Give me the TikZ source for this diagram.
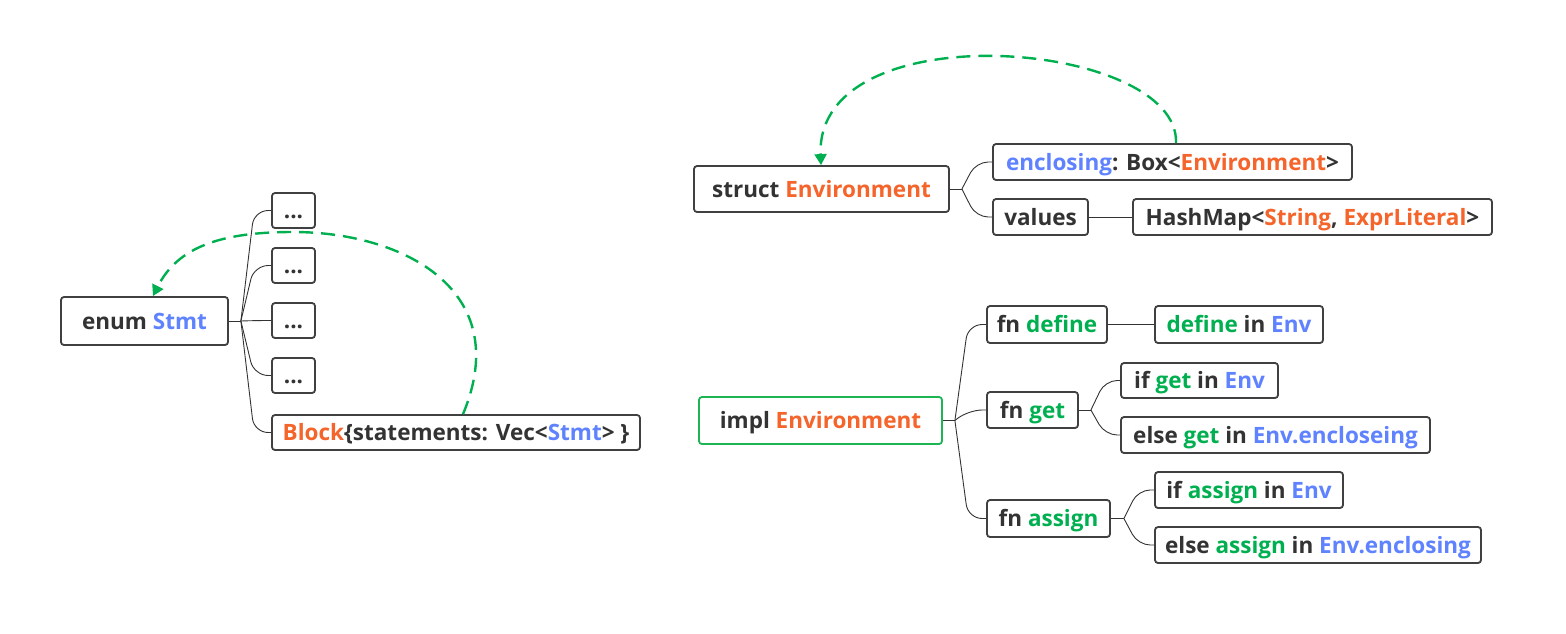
\documentclass[tikz,border=0pt]{standalone}
\usepackage{fontspec}
\setmainfont{Open Sans}
\usetikzlibrary{arrows.meta}
\definecolor{txt}{HTML}{333333}
\definecolor{orgc}{HTML}{F5642A}
\definecolor{bluc}{HTML}{5F82FF}
\definecolor{grnc}{HTML}{00B050}
\definecolor{brd}{HTML}{404040}
\definecolor{ibrd}{HTML}{1DB454}
\newcommand{\cO}[1]{\textcolor{orgc}{#1}}
\newcommand{\cB}[1]{\textcolor{bluc}{#1}}
\newcommand{\cG}[1]{\textcolor{grnc}{#1}}
\begin{document}
\begin{tikzpicture}[x=1pt,y=-1pt,
  box/.style={draw=brd, line width=1.8pt, rounded corners=3pt, fill=white, text=txt,
    inner sep=0pt, minimum height=36pt, text height=18pt, text depth=2pt,
    font=\bfseries\fontsize{22.5}{26}\selectfont, anchor=center},
  conn/.style={draw=txt, line width=0.9pt},
  link/.style={draw=grnc, line width=2.4pt, dash pattern=on 14pt off 8pt,
    -{Triangle[length=11pt,width=12pt]}}]
\useasboundingbox (0,0) rectangle (1566,633);

% left tree
\node[box, minimum width=167pt, minimum height=48pt] (es) at (144.5,321) {enum \cB{Stmt}};
\node[box, minimum width=43pt, minimum height=35pt] (d1) at (293.5,210.5) {...};
\node[box, minimum width=43pt, minimum height=35pt] (d2) at (293.5,265.5) {...};
\node[box, minimum width=43pt, minimum height=35pt] (d3) at (293.5,320.5) {...};
\node[box, minimum width=43pt, minimum height=35pt] (d4) at (293.5,375.5) {...};
\node[box, minimum width=368pt, minimum height=35pt] (blk) at (456,432.5) {\cO{Block}\{statements: Vec<\cB{Stmt}> \}};

% struct
\node[box, minimum width=255pt, minimum height=46pt] (se) at (821.5,189) {struct \cO{Environment}};
\node[box, minimum width=359pt] (enc) at (1172.5,162) {\cB{enclosing}: Box<\cO{Environment}>};
\node[box, minimum width=95pt] (val) at (1040.5,217) {values};
\node[box, minimum width=359pt] (hm) at (1312.5,217) {HashMap<\cO{String}, \cO{ExprLiteral}>};

% impl
\node[box, draw=ibrd, minimum width=243pt, minimum height=47pt] (ie) at (820.5,420.5) {impl \cO{Environment}};
\node[box, minimum width=120pt, minimum height=37pt] (fd) at (1047,324.5) {fn \cG{define}};
\node[box, minimum width=168pt, minimum height=37pt] (fdE) at (1239,324.5) {\cG{define} in \cB{Env}};
\node[box, minimum width=91pt] (fg) at (1032.5,410) {fn \cG{get}};
\node[box, minimum width=157pt, minimum height=35pt] (fg1) at (1199.5,380.5) {if \cG{get} in \cB{Env}};
\node[box, minimum width=309pt] (fg2) at (1275.5,435) {else \cG{get} in \cB{Env.encloseing}};
\node[box, minimum width=123pt, minimum height=37pt] (fa) at (1048.5,518.5) {fn \cG{assign}};
\node[box, minimum width=188pt] (fa1) at (1249,490) {if \cG{assign} in \cB{Env}};
\node[box, minimum width=326pt] (fa2) at (1318,545) {else \cG{assign} in \cB{Env.enclosing}};

% connectors
\draw[conn] (es.east) -- ++(12,0) coordinate (eb);
\foreach \n in {d1,d2,d3,d4,blk}
  \draw[conn, rounded corners=14pt] (eb) -- ([xshift=-17pt]\n.west) -- (\n.west);
\draw[conn] (se.east) -- ++(12,0) coordinate (sb);
\foreach \n in {enc,val}
  \draw[conn, rounded corners=12pt] (sb) -- ([xshift=-16pt]\n.west) -- (\n.west);
\draw[conn] (val) -- (hm);
\draw[conn] (ie.east) -- ++(12,0) coordinate (ib);
\foreach \n in {fd,fg,fa}
  \draw[conn, rounded corners=14pt] (ib) -- ([xshift=-18pt]\n.west) -- (\n.west);
\draw[conn] (fd) -- (fdE);
\draw[conn] (fg.east) -- ++(12,0) coordinate (gb);
\foreach \n in {fg1,fg2}
  \draw[conn, rounded corners=12pt] (gb) -- ([xshift=-15pt]\n.west) -- (\n.west);
\draw[conn] (fa.east) -- ++(13,0) coordinate (ab);
\foreach \n in {fa1,fa2}
  \draw[conn, rounded corners=12pt] (ab) -- ([xshift=-16pt]\n.west) -- (\n.west);

% dashed links
\draw[link] ([xshift=7pt]blk.north) .. controls (515,290) and (403,232) .. (293,232)
  .. controls (223,232) and (178,246) .. ([xshift=8.5pt]es.north);
\draw[link] ([xshift=3.5pt]enc.north) .. controls (1180,40) and (815,10) .. ([xshift=-0.5pt]se.north);
\end{tikzpicture}
\end{document}
